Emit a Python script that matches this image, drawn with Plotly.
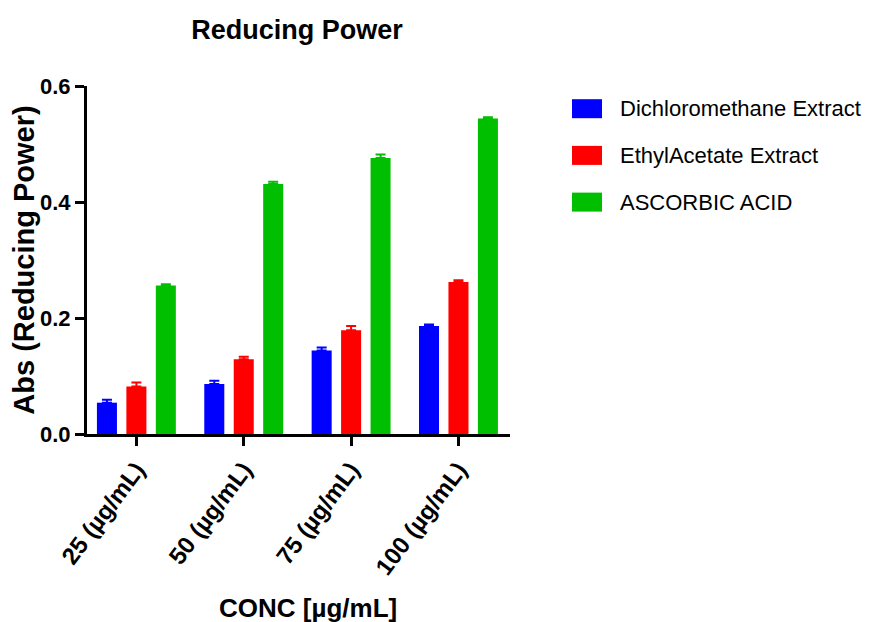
import plotly.graph_objects as go

categories = ["25 (µg/mL)", "50 (µg/mL)", "75 (µg/mL)", "100 (µg/mL)"]
series_names = ["Dichloromethane Extract", "EthylAcetate Extract", "ASCORBIC ACID"]
dcm_values = [0.054, 0.086, 0.144, 0.186]
dcm_errors = [0.005, 0.006, 0.005, 0.003]
ea_values = [0.082, 0.129, 0.179, 0.262]
ea_errors = [0.007, 0.004, 0.007, 0.003]
aa_values = [0.256, 0.431, 0.476, 0.544]
aa_errors = [0.002, 0.004, 0.006, 0.002]
colors = ["#0000FF", "#FF0000", "#00BF00"]

FONT = "Liberation Sans, Arial, sans-serif"

# plot-area geometry in pixels (figure coords) used for the legend layout
PLOT_L, PLOT_R, PLOT_T, PLOT_B = 79, 502, 78, 426
PW, PH = PLOT_R - PLOT_L, PLOT_B - PLOT_T


def px_x(x):
    return (x - PLOT_L) / PW


def px_y(y):
    return (PLOT_B - y) / PH


fig = go.Figure()
for i, (name, vals, errs) in enumerate(zip(series_names,
                                           [dcm_values, ea_values, aa_values],
                                           [dcm_errors, ea_errors, aa_errors])):
    fig.add_trace(go.Bar(
        x=categories, y=vals, name=name, showlegend=False,
        marker=dict(color=colors[i], line=dict(width=0)),
        error_y=dict(type="data", array=errs, symmetric=False, arrayminus=[0]*len(errs),
                     color=colors[i], thickness=2, width=5),
    ))

# legend drawn as swatches + labels (to match rectangular swatches)
shapes = []
annotations = []
for i, name in enumerate(series_names):
    yc = 100.7 + 46.7 * i
    shapes.append(dict(type="rect", xref="paper", yref="paper",
                       x0=px_x(564), x1=px_x(594), y0=px_y(yc + 9.5), y1=px_y(yc - 9.5),
                       fillcolor=colors[i], line=dict(width=0), layer="above"))
    annotations.append(dict(text=name, xref="paper", yref="paper",
                            x=px_x(610), y=px_y(yc), xanchor="left", yanchor="middle",
                            showarrow=False, font=dict(family=FONT, size=22, color="black")))

annotations.append(dict(
    text="<b>CONC [µg/mL]</b>", xref="paper", yref="paper",
    x=px_x(299.5), y=px_y(600), xanchor="center", yanchor="middle",
    showarrow=False, font=dict(family=FONT, size=26, color="black"),
))

fig.update_layout(
    width=871, height=622,
    margin=dict(l=PLOT_L, r=871 - PLOT_R, t=PLOT_T, b=622 - PLOT_B, autoexpand=False),
    paper_bgcolor="white", plot_bgcolor="white",
    barmode="group", bargap=0.177, bargroupgap=0.32,
    title=dict(text="<b>Reducing Power</b>", x=289 / 871, xanchor="center",
               y=1 - 22 / 622, yanchor="middle",
               font=dict(family=FONT, size=27, color="black")),
    font=dict(family=FONT, color="black"),
    showlegend=False,
    xaxis=dict(
        type="category",
        range=[-0.46, 3.48], showline=True, linecolor="black", linewidth=3,
        ticks="outside", ticklen=9, tickwidth=3, tickcolor="black",
        tickangle=-53, tickfont=dict(family=FONT, size=24, color="black"),
        showgrid=False, zeroline=False,
        tickprefix="<b>", ticksuffix="</b>",
    ),
    yaxis=dict(
        range=[0, 0.6], tickvals=[0, 0.2, 0.4, 0.6], ticktext=["<b>0.0</b>", "<b>0.2</b>", "<b>0.4</b>", "<b>0.6</b>"],
        showline=True, linecolor="black", linewidth=3,
        ticks="outside", ticklen=9, tickwidth=3, tickcolor="black",
        tickfont=dict(family=FONT, size=22, color="black"),
        title=dict(text="<b>Abs (Reducing Power)</b>", font=dict(family=FONT, size=29, color="black"),
                   standoff=4),
        showgrid=False, zeroline=False,
    ),
    shapes=shapes,
    annotations=annotations,
)

fig.write_html("out.html")
